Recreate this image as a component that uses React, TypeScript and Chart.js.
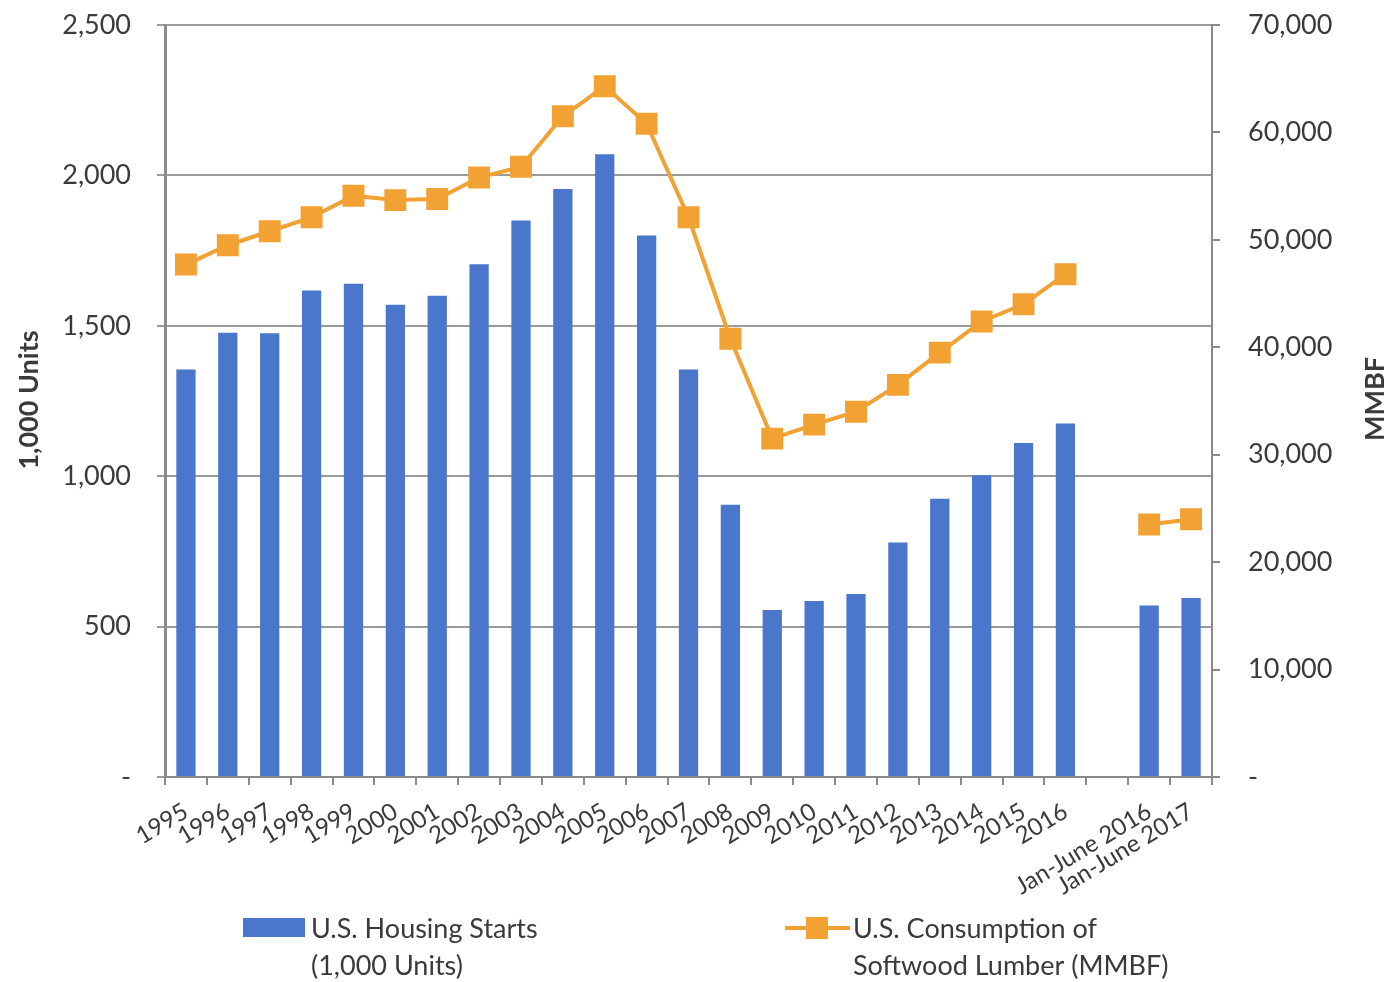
import React, { useEffect, useRef } from "react";
import { Chart, registerables } from "chart.js";

Chart.register(...registerables);

const categories: string[] = [
  "1995", "1996", "1997", "1998", "1999", "2000", "2001", "2002", "2003", "2004",
  "2005", "2006", "2007", "2008", "2009", "2010", "2011", "2012", "2013", "2014",
  "2015", "2016", "", "Jan-June 2016", "Jan-June 2017",
];

const housingStarts: (number | null)[] = [
  1355, 1477, 1475, 1617, 1640, 1570, 1600, 1705, 1850, 1955,
  2070, 1800, 1355, 905, 555, 585, 608, 780, 925, 1003,
  1110, 1175, null, 570, 595,
];

const lumberConsumption: (number | null)[] = [
  47700, 49500, 50800, 52100, 54100, 53700, 53800, 55800, 56800, 61500,
  64300, 60800, 52100, 40800, 31500, 32800, 34000, 36500, 39500, 42400,
  44000, 46800, null, 23500, 24000,
];

const leftTitle = "1,000 Units";
const rightTitle = "MMBF";
const barLegend = ["U.S. Housing Starts", "(1,000 Units)"];
const lineLegend = ["U.S. Consumption of", "Softwood Lumber (MMBF)"];

const BAR_COLOR = "#4a77cb";
const LINE_COLOR = "#f2a133";
const TEXT_COLOR = "#3a3a3a";
const GRID_COLOR = "#9a9a9a";
const AXIS_COLOR = "#8a8a8a";
const FONT = "Lato, 'Open Sans', sans-serif";

const fmt = (v: number) => (v === 0 ? "-" : Math.round(v).toLocaleString("en-US"));

const overlayPlugin = {
  id: "overlay",
  afterDraw(chart: any) {
    const ctx = chart.ctx as CanvasRenderingContext2D;
    ctx.save();
    ctx.fillStyle = TEXT_COLOR;
    ctx.font = `bold 27px ${FONT}`;
    ctx.textAlign = "center";
    ctx.textBaseline = "middle";
    // left axis title
    ctx.save();
    ctx.translate(29, 400);
    ctx.rotate(-Math.PI / 2);
    ctx.fillText(leftTitle, 0, 0);
    ctx.restore();
    // right axis title
    ctx.save();
    ctx.translate(1375, 399);
    ctx.rotate(-Math.PI / 2);
    ctx.fillText(rightTitle, 0, 0);
    ctx.restore();

    // legend
    ctx.font = `27px ${FONT}`;
    ctx.textAlign = "left";
    ctx.fillStyle = BAR_COLOR;
    ctx.fillRect(243, 918, 62, 19);
    ctx.fillStyle = TEXT_COLOR;
    ctx.fillText(barLegend[0], 311, 929);
    ctx.fillText(barLegend[1], 311, 966);

    ctx.strokeStyle = LINE_COLOR;
    ctx.lineWidth = 4;
    ctx.beginPath();
    ctx.moveTo(785, 928);
    ctx.lineTo(850, 928);
    ctx.stroke();
    ctx.fillStyle = LINE_COLOR;
    ctx.fillRect(806, 917, 22, 22);
    ctx.fillStyle = TEXT_COLOR;
    ctx.fillText(lineLegend[0], 853, 929);
    ctx.fillText(lineLegend[1], 853, 966);
    ctx.restore();
  },
};

export default function App() {
  const ref = useRef<HTMLCanvasElement | null>(null);

  useEffect(() => {
    if (!ref.current) return;
    const chart = new Chart(ref.current, {
      type: "bar",
      data: {
        labels: categories,
        datasets: [
          {
            type: "line",
            label: lineLegend.join(" "),
            data: lumberConsumption,
            yAxisID: "y1",
            borderColor: LINE_COLOR,
            backgroundColor: LINE_COLOR,
            borderWidth: 4,
            pointStyle: "rect",
            pointRadius: 15.5,
            pointHoverRadius: 15.5,
            pointBorderWidth: 0,
            spanGaps: false,
            tension: 0,
          } as any,
          {
            type: "bar",
            label: barLegend.join(" "),
            data: housingStarts,
            yAxisID: "y",
            backgroundColor: BAR_COLOR,
            barPercentage: 0.46,
            categoryPercentage: 1,
          } as any,
        ],
      },
      options: {
        responsive: false,
        animation: false,
        layout: { autoPadding: false, padding: { top: 25, left: 0, right: 0, bottom: 0 } },
        plugins: {
          legend: { display: false },
          tooltip: { enabled: false },
        },
        scales: {
          x: {
            offset: true,
            grid: {
              offset: true,
              drawOnChartArea: false,
              drawTicks: true,
              tickLength: 8,
              color: AXIS_COLOR,
              lineWidth: 2,
            },
            border: { display: true, color: AXIS_COLOR, width: 2 },
            ticks: {
              autoSkip: false,
              minRotation: 31,
              maxRotation: 31,
              padding: 12,
              color: TEXT_COLOR,
              font: { family: FONT, size: 24 },
            },
            afterFit: (s: any) => {
              s.height = 205;
            },
          },
          y: {
            position: "left",
            min: 0,
            max: 2500,
            ticks: {
              stepSize: 500,
              padding: 26,
              color: TEXT_COLOR,
              font: { family: FONT, size: 27 },
              callback: (v: any) => fmt(Number(v)),
            },
            grid: {
              color: GRID_COLOR,
              lineWidth: 2,
              tickLength: 8,
              drawTicks: true,
            },
            border: { display: true, color: AXIS_COLOR, width: 3 },
            afterFit: (s: any) => {
              s.width = 165;
              s.paddingTop = 0;
              s.paddingBottom = 0;
            },
          },
          y1: {
            position: "right",
            min: 0,
            max: 70000,
            ticks: {
              stepSize: 10000,
              padding: 28,
              color: TEXT_COLOR,
              font: { family: FONT, size: 27 },
              callback: (v: any) => fmt(Number(v)),
            },
            grid: {
              drawOnChartArea: false,
              drawTicks: true,
              tickLength: 8,
              color: AXIS_COLOR,
              lineWidth: 2,
            },
            border: { display: true, color: AXIS_COLOR, width: 2 },
            afterFit: (s: any) => {
              s.width = 178;
              s.paddingTop = 0;
              s.paddingBottom = 0;
            },
          },
        },
      },
      plugins: [overlayPlugin],
    });
    return () => chart.destroy();
  }, []);

  return (
    <div style={{ position: "absolute", left: 0, top: 0, width: 1390, height: 982, background: "#fff" }}>
      <canvas ref={ref} width={1390} height={982} style={{ width: 1390, height: 982, display: "block" }} />
    </div>
  );
}
